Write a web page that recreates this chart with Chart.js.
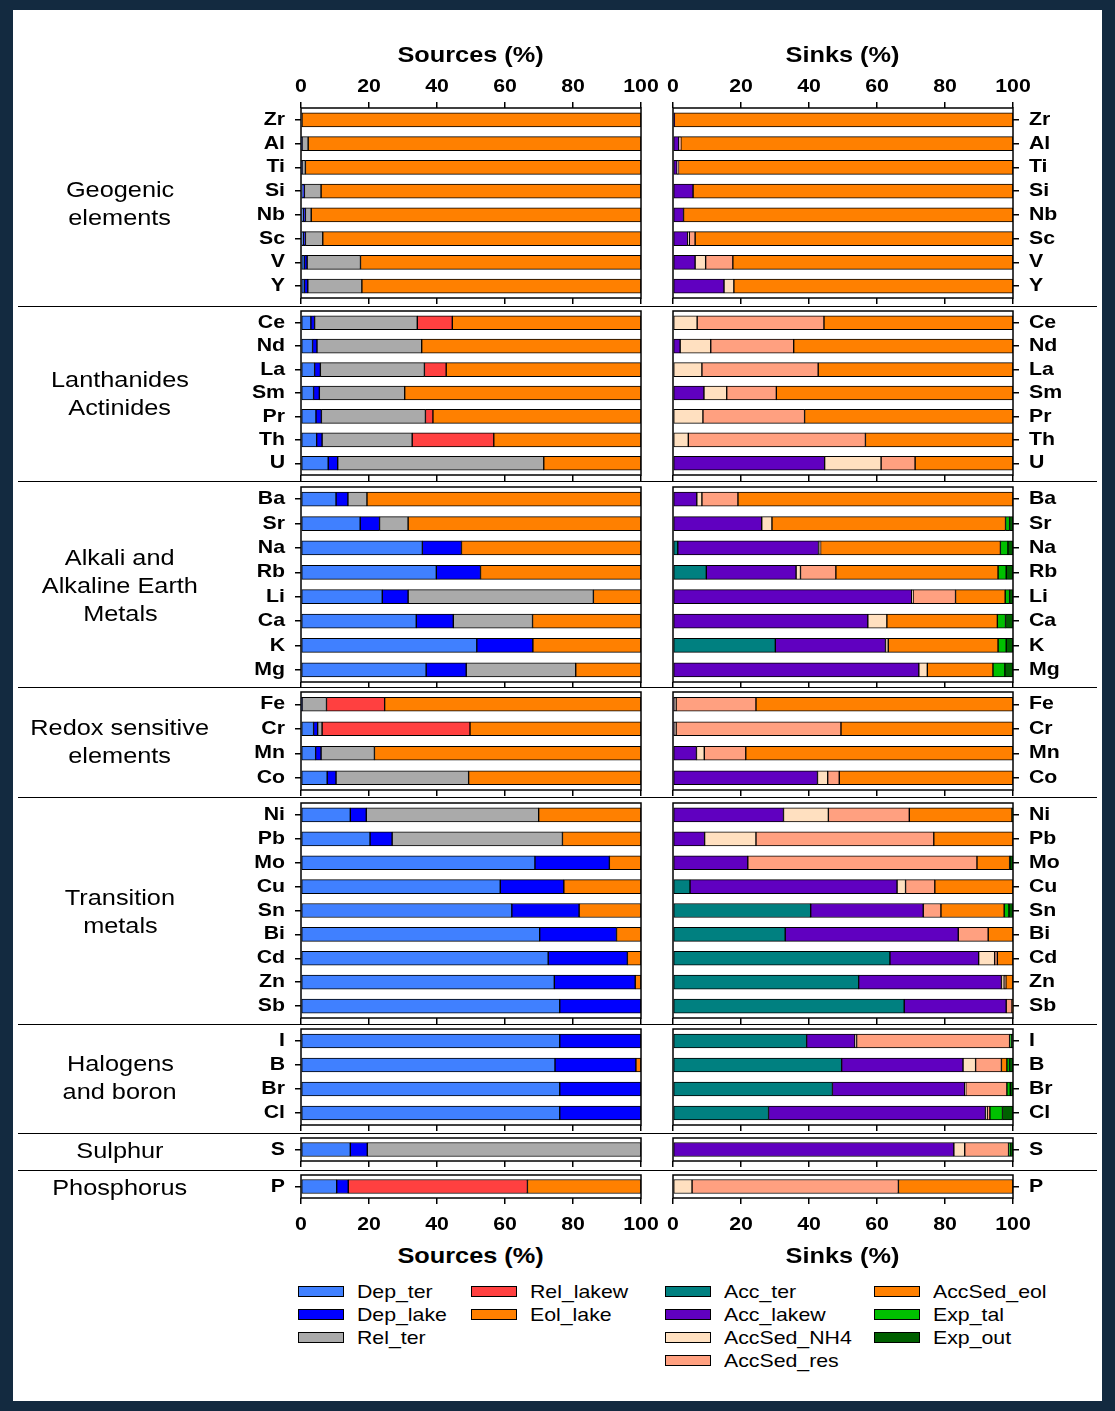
<!DOCTYPE html>
<html>
<head>
<meta charset="utf-8">
<title>Sources and sinks of elements</title>
<script src="https://cdn.jsdelivr.net/npm/chart.js@4.4.1/dist/chart.umd.min.js"></script>
<style>
  html, body { margin: 0; padding: 0; }
  body {
    width: 1115px; height: 1411px; position: relative; overflow: hidden;
    background: #132a40;
    font-family: "Liberation Sans", Arial, Helvetica, sans-serif; color: #000;
  }
  #sheet { position: absolute; left: 13px; top: 10px; width: 1089px; height: 1391px; background: #fff; }
  canvas { position: absolute; }
  .rule { position: absolute; left: 18px; width: 1079px; height: 0; border-top: 1.5px solid #000; }
  .txt { position: absolute; white-space: nowrap; }
  .txt span { display: inline-block; }
  .swatch { position: absolute; width: 44px; height: 9px; border: 1.5px solid #000; }
</style>
</head>
<body>
<div id="sheet"></div>
<script>
// ---- data -------------------------------------------------------------
const elements = ['Zr','Al','Ti','Si','Nb','Sc','V','Y',
                  'Ce','Nd','La','Sm','Pr','Th','U',
                  'Ba','Sr','Na','Rb','Li','Ca','K','Mg',
                  'Fe','Cr','Mn','Co',
                  'Ni','Pb','Mo','Cu','Sn','Bi','Cd','Zn','Sb',
                  'I','B','Br','Cl',
                  'S',
                  'P'];
const groupSizes = [8, 7, 8, 4, 9, 4, 1, 1];
const groupNames = [['Geogenic','elements'], ['Lanthanides','Actinides'],
                    ['Alkali and','Alkaline Earth','Metals'], ['Redox sensitive','elements'],
                    ['Transition','metals'], ['Halogens','and boron'], ['Sulphur'], ['Phosphorus']];
const xTickValues = [0, 20, 40, 60, 80, 100];

// sources (%)
const sourceNames  = ['Dep_ter','Dep_lake','Rel_ter','Rel_lakew','Eol_lake'];
const sourceColors = ['#4080ff','#0000ff','#aaaaaa','#ff4040','#ff8000'];
const depTer   = [0,0.2,0.2,0.5,0.7,0.7,1.0,1.0, 2.9,3.4,4.0,3.7,4.4,4.6,8.0, 10.3,17.4,35.7,39.8,23.9,33.9,51.7,36.8, 0.2,3.7,4.3,7.7, 14.5,20.3,68.8,58.6,62.0,70.2,72.7,74.5,76.1, 76.1,74.7,76.1,76.1, 14.5, 10.5];
const depLake  = [0,0.1,0.1,0.5,0.6,0.6,0.8,1.0, 1.1,1.3,1.7,1.7,1.6,1.6,2.8, 3.5,5.7,11.5,13.0,7.6,10.9,16.5,11.8, 0.1,1.2,1.6,2.6, 4.7,6.5,21.9,18.7,19.8,22.6,23.3,23.8,23.9, 23.9,23.8,23.9,23.9, 5.0, 3.4];
const relTer   = [0.3,1.8,1.0,4.9,1.7,5.1,15.7,15.9, 30.2,30.8,30.6,25.1,30.6,26.5,60.6, 5.6,8.4,0,0,54.5,23.3,0,32.2, 7.2,1.3,15.7,39.0, 50.7,50.1,0,0,0,0,0,0,0, 0,0,0,0, 80.5, 0];
const relLakew = [0,0,0,0,0,0,0,0, 10.3,0,6.4,0,2.2,24.0,0, 0,0,0,0,0,0,0,0, 17.1,43.5,0,0, 0,0,0,0,0,0,0,0,0, 0,0,0,0, 0, 52.7];
const eolLake  = [99.7,97.9,98.7,94.1,97.0,93.6,82.5,82.1, 55.5,64.5,57.3,69.5,61.2,43.3,28.6, 80.6,68.5,52.8,47.2,14.0,31.9,31.8,19.2, 75.4,50.3,78.4,50.7, 30.1,23.1,9.3,22.7,18.2,7.2,4.0,1.7,0, 0,1.5,0,0, 0, 33.4];

// sinks (%)
const sinkNames  = ['Acc_ter','Acc_lakew','AccSed_NH4','AccSed_res','AccSed_eol','Exp_tal','Exp_out'];
const sinkColors = ['#008080','#6000c0','#ffe0c0','#ffa080','#ff8000','#00c000','#006000'];
const accTer    = [0,0,0,0,0,0,0,0, 0,0,0,0,0,0,0, 0,0,1.4,9.8,0,0,30.1,0, 0,0,0,0, 0,0,0,5.0,40.5,33.0,63.8,54.6,68.0, 39.3,49.6,46.9,28.1, 0, 0];
const accLakew  = [0.4,1.7,1.2,5.9,3.1,4.3,6.5,15.0, 0,2.1,0,9.1,0,0,44.6, 7.0,26.1,41.4,26.4,70.2,57.3,32.4,72.3, 0.3,0.3,6.9,42.5, 32.5,9.3,22.0,60.9,33.1,50.9,26.1,42.0,30.0, 14.2,35.7,38.9,63.8, 82.6, 0];
const accSedNH4 = [0,0.3,0.2,0,0,0.5,3.1,2.9, 7.1,9.0,8.5,6.7,8.8,4.5,16.6, 1.5,3.0,0.3,1.3,0.4,5.6,0.8,2.5, 0.6,0.6,2.3,3.0, 13.2,15.1,0,2.5,0,0,4.7,0.8,0, 0.5,3.7,0.3,0.5, 3.2, 5.6];
const accSedRes = [0,0.3,0.2,0,0,1.7,8.0,0, 37.3,24.4,34.2,14.6,29.9,52.1,10.0, 10.6,0,0.3,10.4,12.5,0,0,0, 23.5,48.5,12.2,3.4, 23.8,52.3,67.4,8.6,5.2,8.8,0.8,0.5,1.7, 45.0,7.6,12.1,0.8, 12.9, 60.7];
const accSedEol = [99.6,97.7,98.4,94.1,96.9,93.5,82.4,82.1, 55.6,64.5,57.3,69.6,61.3,43.4,28.8, 80.9,68.7,52.9,47.7,14.6,32.5,32.3,19.3, 75.6,50.6,78.6,51.1, 30.2,23.3,9.6,23.0,18.6,7.3,4.6,2.1,0.3, 0,1.6,0,0, 0, 33.7];
const expTal    = [0,0,0,0,0,0,0,0, 0,0,0,0,0,0,0, 0,1.2,2.2,2.4,1.3,2.4,2.4,3.5, 0,0,0,0, 0.1,0,0.2,0,1.4,0,0,0,0, 0.5,0.8,1.0,3.7, 0.4, 0];
const expOut    = [0,0,0,0,0,0,0,0, 0,0,0,0,0,0,0, 0,1.0,1.5,2.0,1.0,2.2,2.0,2.4, 0,0,0,0, 0.2,0,0.8,0,1.2,0,0,0,0, 0.5,1.0,0.8,3.1, 0.9, 0];

const sourceValues = [depTer, depLake, relTer, relLakew, eolLake];
const sinkValues   = [accTer, accLakew, accSedNH4, accSedRes, accSedEol, expTal, expOut];

// ---- layout -----------------------------------------------------------
const FONT = '"Liberation Sans", Arial, Helvetica, sans-serif';
const STRETCH = 1.15;                 // lettering is drawn a little wide
const panelBox = [[108,298],[311,475],[487,682],[692,790],[803,1018],[1029,1125],[1138,1161],[1175,1198]];
const sides = {
  src: { left: 0,   right: 680,  plotL: 301, plotR: 641, title: 'Sources (%)', names: sourceNames, colors: sourceColors, values: sourceValues },
  snk: { left: 620, right: 1100, plotL: 673, plotR: 1013, title: 'Sinks (%)',  names: sinkNames,   colors: sinkColors,   values: sinkValues }
};
const ruleYs = [307, 482, 688, 798, 1025, 1134, 1171];
const TICK_FONT = 'bold 18.5px ' + FONT;

Chart.defaults.font.family = FONT;

// black frame round the plotting area
const frameBox = {
  id: 'frameBox',
  afterDatasetsDraw(chart) {
    const { ctx, chartArea: a } = chart;
    ctx.save();
    ctx.strokeStyle = '#000';
    ctx.lineWidth = 1.5;
    ctx.strokeRect(a.left, a.top, a.right - a.left, a.bottom - a.top);
    ctx.restore();
  }
};

// tick labels, placed from the scales' own tick positions, slightly widened
function tickText(items) {
  return {
    id: 'tickText',
    afterDraw(chart) {
      const ctx = chart.ctx, a = chart.chartArea;
      items.forEach(it => {
        const scale = chart.scales[it.scale];
        ctx.save();
        ctx.font = it.font;
        ctx.fillStyle = '#000';
        ctx.textBaseline = 'middle';
        ctx.textAlign = it.align;
        scale.ticks.forEach((t, i) => {
          const p = scale.getPixelForTick(i);
          let x, y;
          if (scale.isHorizontal()) {
            x = p; y = it.edge === 'top' ? a.top - it.gap : a.bottom + it.gap;
          } else {
            y = p; x = it.edge === 'left' ? a.left - it.gap : a.right + it.gap;
          }
          ctx.save();
          ctx.translate(x, y);
          ctx.scale(STRETCH, 1);
          ctx.fillText(String(t.label), 0, 0);
          ctx.restore();
        });
        ctx.restore();
      });
    }
  };
}

function xScale(position, height) {
  return {
    type: 'linear', position, stacked: true, min: 0, max: 100,
    afterBuildTicks: s => { s.ticks = xTickValues.map(v => ({ value: v })); },
    afterFit: s => { s.height = height; },
    ticks: { display: false },
    grid: { drawOnChartArea: false, drawTicks: true, tickLength: 6, color: '#000', lineWidth: 1.5 },
    border: { display: false }
  };
}

function addText(html, x, y, css) {
  const d = document.createElement('div');
  d.className = 'txt';
  d.innerHTML = html;
  Object.assign(d.style, { left: x + 'px', top: y + 'px' }, css || {});
  document.body.appendChild(d);
  return d;
}

let start = 0;
groupSizes.forEach((n, g) => {
  const labels = elements.slice(start, start + n);
  const from = start;
  start += n;
  const [T, B] = panelBox[g];
  const first = g === 0, last = g === panelBox.length - 1;
  const topH = first ? 44 : 0;
  const botH = last ? 42 : 7;
  const padT = 4, padB = 2;

  Object.entries(sides).forEach(([key, sd]) => {
    const isSrc = key === 'src';
    const cv = document.createElement('canvas');
    const w = sd.right - sd.left;
    const h = (B - T) + topH + botH + padT + padB;
    cv.width = w; cv.height = h;
    cv.style.width = w + 'px'; cv.style.height = h + 'px';
    cv.style.left = sd.left + 'px';
    cv.style.top = (T - topH - padT) + 'px';
    document.body.appendChild(cv);

    const yWidth = isSrc ? sd.plotL - sd.left : sd.right - sd.plotR;
    const scales = {
      x: xScale('bottom', botH),
      y: {
        type: 'category', position: isSrc ? 'left' : 'right', stacked: true, offset: true,
        afterFit: s => { s.width = yWidth; },
        ticks: { display: false, autoSkip: false },
        grid: { offset: false, drawOnChartArea: false, drawTicks: true, tickLength: 6, color: '#000', lineWidth: 1.5 },
        border: { display: false }
      }
    };
    if (first) scales.xt = xScale('top', topH);

    const items = [{ scale: 'y', edge: isSrc ? 'left' : 'right', gap: 16,
                     align: isSrc ? 'right' : 'left', font: TICK_FONT }];
    if (first) items.push({ scale: 'xt', edge: 'top', gap: 21, align: 'center', font: TICK_FONT });
    if (last)  items.push({ scale: 'x', edge: 'bottom', gap: 27, align: 'center', font: TICK_FONT });

    new Chart(cv, {
      type: 'bar',
      data: {
        labels,
        datasets: sd.names.map((name, k) => ({
          label: name,
          data: sd.values[k].slice(from, from + n),
          backgroundColor: sd.colors[k],
          borderColor: '#000',
          borderWidth: 1,
          borderSkipped: false,
          barThickness: 14,
          xAxisID: 'x', yAxisID: 'y'
        }))
      },
      options: {
        indexAxis: 'y',
        responsive: false,
        animation: false,
        devicePixelRatio: 1,
        layout: { padding: {
          left: isSrc ? 0 : sd.plotL - sd.left,
          right: isSrc ? sd.right - sd.plotR : 0,
          top: padT, bottom: padB } },
        plugins: { legend: { display: false }, tooltip: { enabled: false } },
        scales
      },
      plugins: [frameBox, tickText(items)]
    });
  });

  // group name on the left
  const lines = groupNames[g];
  const cy = (T + B) / 2 + 1;
  lines.forEach((ln, i) => {
    const y = cy + (i - (lines.length - 1) / 2) * 28;
    addText(`<span style="transform:scaleX(${STRETCH})">${ln}</span>`, 0, y - 14,
      { width: '240px', textAlign: 'center', fontSize: '22px', lineHeight: '28px' });
  });
});

// horizontal rules between the groups
ruleYs.forEach(y => {
  const d = document.createElement('div');
  d.className = 'rule';
  d.style.top = (y - 0.75) + 'px';
  document.body.appendChild(d);
});

// axis titles, top and bottom
Object.values(sides).forEach(sd => {
  const cx = (sd.plotL + sd.plotR) / 2;
  [55, 1256].forEach(y => {
    addText(`<span style="transform:scaleX(${STRETCH})">${sd.title}</span>`, cx - 150, y - 14,
      { width: '300px', textAlign: 'center', fontSize: '22px', fontWeight: 'bold', lineHeight: '28px' });
  });
});

// legend: sources in two columns of three rows, sinks in two columns of four rows
function legendColumn(names, colors, x, y0) {
  names.forEach((name, i) => {
    const y = y0 + i * 23;
    const sw = document.createElement('div');
    sw.className = 'swatch';
    Object.assign(sw.style, { left: x + 'px', top: (y - 6) + 'px', background: colors[i] });
    document.body.appendChild(sw);
    addText(`<span style="transform:scaleX(${STRETCH});transform-origin:left center">${name}</span>`,
      x + 59, y - 11, { fontSize: '18.5px', lineHeight: '22px' });
  });
}
legendColumn(sourceNames.slice(0, 3), sourceColors.slice(0, 3), 298, 1292);
legendColumn(sourceNames.slice(3),    sourceColors.slice(3),    471, 1292);
legendColumn(sinkNames.slice(0, 4),   sinkColors.slice(0, 4),   665, 1292);
legendColumn(sinkNames.slice(4),      sinkColors.slice(4),      874, 1292);
</script>
</body>
</html>
